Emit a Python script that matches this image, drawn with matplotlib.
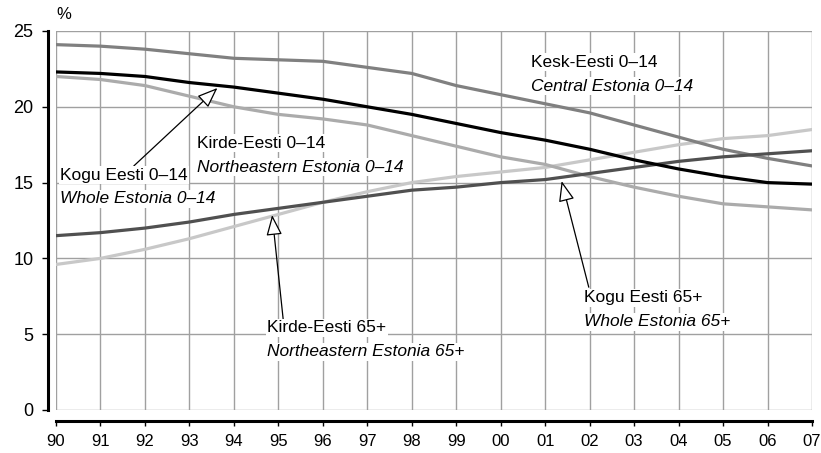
import matplotlib
matplotlib.use('Agg')
import matplotlib.pyplot as plt

plt.rcParams['font.family'] = ['Liberation Sans', 'DejaVu Sans']

years = list(range(1990, 2008))
year_labels = ['90', '91', '92', '93', '94', '95', '96', '97', '98', '99',
               '00', '01', '02', '03', '04', '05', '06', '07']

kesk_0_14 = [24.1, 24.0, 23.8, 23.5, 23.2, 23.1, 23.0, 22.6, 22.2, 21.4,
             20.8, 20.2, 19.6, 18.8, 18.0, 17.2, 16.6, 16.1]
kogu_0_14 = [22.3, 22.2, 22.0, 21.6, 21.3, 20.9, 20.5, 20.0, 19.5, 18.9,
             18.3, 17.8, 17.2, 16.5, 15.9, 15.4, 15.0, 14.9]
kirde_0_14 = [22.0, 21.8, 21.4, 20.7, 20.0, 19.5, 19.2, 18.8, 18.1, 17.4,
              16.7, 16.2, 15.4, 14.7, 14.1, 13.6, 13.4, 13.2]
kogu_65 = [11.5, 11.7, 12.0, 12.4, 12.9, 13.3, 13.7, 14.1, 14.5, 14.7,
           15.0, 15.2, 15.6, 16.0, 16.4, 16.7, 16.9, 17.1]
kirde_65 = [9.6, 10.0, 10.6, 11.3, 12.1, 12.9, 13.7, 14.4, 15.0, 15.4,
            15.7, 16.0, 16.5, 17.0, 17.5, 17.9, 18.1, 18.5]

fig = plt.figure(figsize=(8.21, 4.53), dpi=100)
ax = fig.add_axes([56/821, 1 - 410/453, (812 - 56)/821, (410 - 31)/453])

lw = 2.3
ax.plot(years, kirde_65, color='#c8c8c8', linewidth=lw, zorder=3)
ax.plot(years, kirde_0_14, color='#ababab', linewidth=lw, zorder=3)
ax.plot(years, kesk_0_14, color='#808080', linewidth=lw, zorder=3)
ax.plot(years, kogu_65, color='#505050', linewidth=lw, zorder=3)
ax.plot(years, kogu_0_14, color='black', linewidth=lw, zorder=4)

ax.set_xlim(1990, 2007)
ax.set_ylim(0, 25)
ax.set_xticks(years)
ax.set_xticklabels(year_labels)
ax.set_yticks([0, 5, 10, 15, 20, 25])
ax.grid(True, color='#a0a0a0', linewidth=1)
ax.set_axisbelow(True)

for s in ['top', 'right']:
    ax.spines[s].set_visible(False)
ax.spines['left'].set_position(('outward', 6))
ax.spines['bottom'].set_position(('outward', 8))
ax.spines['left'].set_linewidth(2.2)
ax.spines['bottom'].set_linewidth(2.2)
ax.tick_params(axis='both', width=1, color='black')
ax.tick_params(axis='x', labelsize=12, length=3.5, pad=6)
ax.tick_params(axis='y', labelsize=13, length=4.3, pad=6)

ax.text(0.0, 1.025, '%', transform=ax.transAxes, fontsize=12, ha='left', va='bottom')

box = dict(facecolor='white', edgecolor='none', pad=1)
fs = 12.5

def label(x, y, top, bottom):
    ax.text(x, y, top, fontsize=fs, ha='left', va='center', bbox=box, zorder=6)
    ax.text(x, y - 1.58, bottom, fontsize=fs, style='italic', ha='left', va='center',
            bbox=box, zorder=6)

arrow = dict(arrowstyle='-|>,head_length=0.9,head_width=0.35', facecolor='white',
             edgecolor='black', lw=0.9, mutation_scale=14, shrinkA=0, shrinkB=0)

label(2000.67, 22.95, 'Kesk-Eesti 0–14', 'Central Estonia 0–14')
label(1993.17, 17.6, 'Kirde-Eesti 0–14', 'Northeastern Estonia 0–14')

ax.annotate('', xy=(1993.63, 21.24), xytext=(1991.75, 16.1), arrowprops=arrow, zorder=5)
label(1990.09, 15.5, 'Kogu Eesti 0–14', 'Whole Estonia 0–14')

ax.annotate('', xy=(2001.37, 15.1), xytext=(2001.98, 8.1), arrowprops=arrow, zorder=5)
label(2001.87, 7.39, 'Kogu Eesti 65+', 'Whole Estonia 65+')

ax.annotate('', xy=(1994.86, 12.86), xytext=(1995.11, 5.94), arrowprops=arrow, zorder=5)
label(1994.75, 5.41, 'Kirde-Eesti 65+', 'Northeastern Estonia 65+')

fig.savefig('out.png', dpi=100)
